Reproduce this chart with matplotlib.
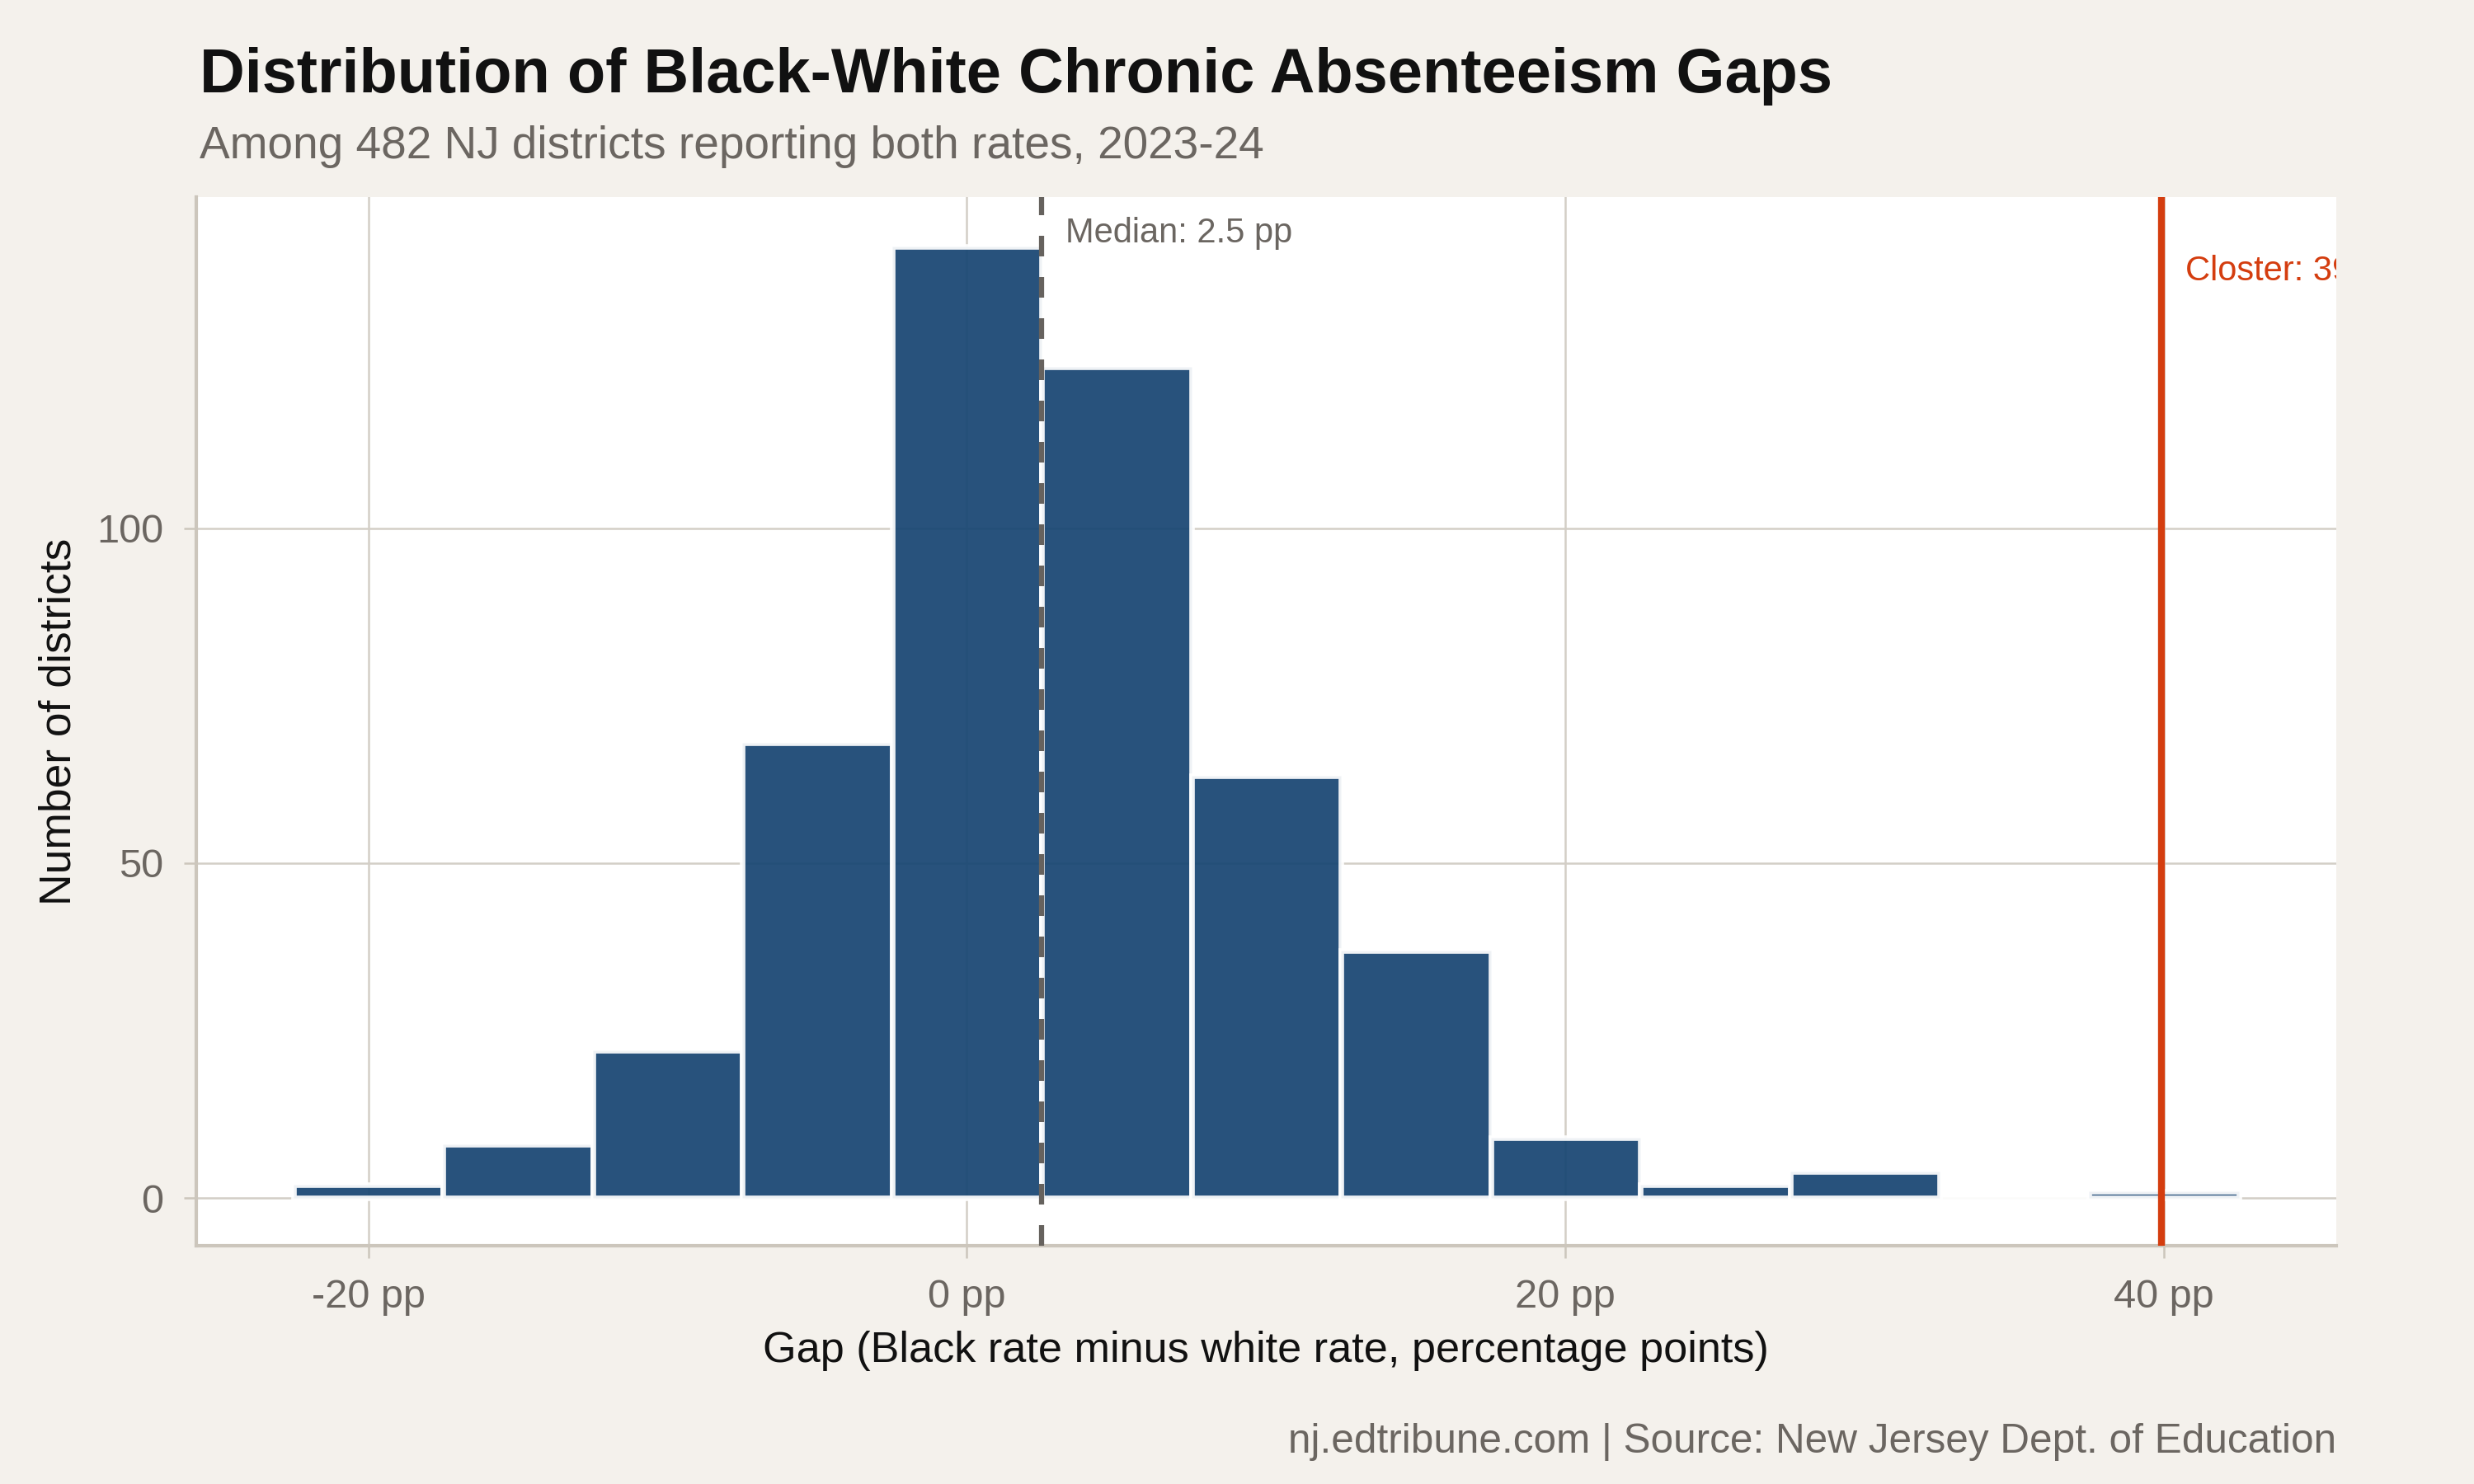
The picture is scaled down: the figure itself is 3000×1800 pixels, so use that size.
import matplotlib
matplotlib.use("Agg")
import matplotlib.pyplot as plt
import matplotlib.transforms as mtransforms
import numpy as np

# ---- data ----
bin_centers = [-20, -15, -10, -5, 0, 5, 10, 15, 20, 25, 30, 35, 40]
counts = [2, 8, 22, 68, 142, 124, 63, 37, 9, 2, 4, 0, 1]
bin_width = 5
median_gap = 2.5
closter_gap = 39.9
x_ticks = [-20, 0, 20, 40]
x_ticklabels = ["-20 pp", "0 pp", "20 pp", "40 pp"]
y_ticks = [0, 50, 100]

title = "Distribution of Black-White Chronic Absenteeism Gaps"
subtitle = "Among 482 NJ districts reporting both rates, 2023-24"
xlabel = "Gap (Black rate minus white rate, percentage points)"
ylabel = "Number of districts"
caption = "nj.edtribune.com | Source: New Jersey Dept. of Education"

# ---- style ----
plt.rcParams['font.family'] = ['Liberation Sans', 'DejaVu Sans']
BG = "#f4f1ec"
GRID = "#d3cec6"
AXIS = "#ccc6bc"
GRAYTXT = "#6b6661"
BAR = "#174572"
RED = "#d43d0f"

fig = plt.figure(figsize=(10, 6), dpi=300, facecolor=BG)
ax = fig.add_axes([0.0793, 0.1606, 0.9443 - 0.0793, 0.8672 - 0.1606])
ax.set_facecolor("white")

ax.bar(bin_centers, counts, width=bin_width, color=BAR, alpha=0.93,
       edgecolor="white", linewidth=1.6, zorder=2)

ax.axvline(median_gap, color="#66625e", linewidth=1.5, linestyle=(0, (4, 4)), zorder=3)
ax.axvline(closter_gap, color=RED, linewidth=2.0, zorder=3)

offset = mtransforms.ScaledTranslation(7 / 72, 0, fig.dpi_scale_trans)
ax.text(median_gap, 144, f"Median: {median_gap} pp", transform=ax.transData + offset,
        ha="left", va="center", fontsize=10.0, color=GRAYTXT, zorder=4)
ax.text(closter_gap, 138.3, f"Closter: {closter_gap} pp", transform=ax.transData + offset,
        ha="left", va="center", fontsize=10.0, color=RED, zorder=4, clip_on=True)

ax.set_xlim(-25.75, 45.75)
ax.set_ylim(-7.1, 149.4)
ax.set_xticks(x_ticks)
ax.set_xticklabels(x_ticklabels)
ax.set_yticks(y_ticks)

ax.grid(True, color=GRID, linewidth=0.6, zorder=0)
ax.set_axisbelow(True)

for s in ["top", "right"]:
    ax.spines[s].set_visible(False)
for s in ["left", "bottom"]:
    ax.spines[s].set_color(AXIS)
    ax.spines[s].set_linewidth(1.0)

ax.tick_params(axis="both", colors=AXIS, length=3.6, width=0.6,
               labelcolor=GRAYTXT, labelsize=11.7, pad=6)

fig.text(0.0807, 0.9378, title, fontsize=18.2, fontweight="bold", color="#111111",
         ha="left", va="baseline")
fig.text(0.0807, 0.8933, subtitle, fontsize=13.2, color=GRAYTXT, ha="left", va="baseline")
fig.text(0.5118, 0.0822, xlabel, fontsize=12.55, color="#111111", ha="center", va="baseline")
fig.text(0.0237, 0.5139, ylabel, fontsize=12.8, color="#111111", ha="center", va="center",
         rotation=90)
fig.text(0.9443, 0.0211, caption, fontsize=11.9, color=GRAYTXT, ha="right", va="baseline")

fig.savefig("out.png", dpi=300, facecolor=BG)
